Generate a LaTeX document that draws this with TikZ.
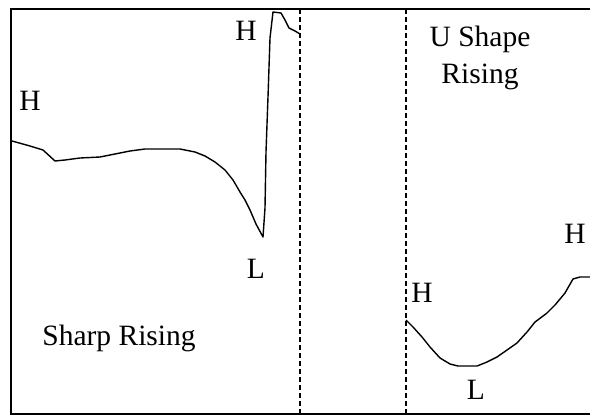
\documentclass[tikz,border=0pt]{standalone}
\usepackage{fontspec}
\setmainfont{Liberation Serif}
\usepackage{tikz}
\usetikzlibrary{positioning}

\begin{document}
\begin{tikzpicture}[
  x=1pt,y=-1pt,
  lbl/.style={font=\fontsize{29.5}{37}\selectfont,inner sep=0pt,align=center},
  trace/.style={line width=1.4pt,line join=round},
  divider/.style={line width=1.5pt,dash pattern=on 5pt off 3pt},
]
\useasboundingbox (0,0) rectangle (590,418);
% frame (open on the right)
\draw[line width=2pt] (592,9) -- (11,9) -- (11,414) -- (592,414);
% dividers
\coordinate (d1t) at (300,9);   \coordinate (d1b) at (300,414);
\coordinate (d2t) at (406,9);   \coordinate (d2b) at (406,414);
\draw[divider] (d1t) -- (d1b);
\draw[divider] (d2t) -- (d2b);
% sharp rising trace
\draw[trace] (12,141) -- (30,146) -- (43,150) -- (55,161) -- (65,160) -- (80,158)
  -- (100,157) -- (115,154) -- (130,151) -- (145,149) -- (180,149) -- (195,152)
  -- (205,156) -- (215,162) -- (225,170) -- (233,180) -- (240,192) -- (245,200)
  -- (250,210) -- (256,224) -- (263,237) -- (265,208) -- (266,152) -- (268,97)
  -- (270,38) -- (273,12) -- (281,13) -- (285,20) -- (289,28) -- (295,31) -- (300,34);
% U shape trace
\draw[trace] (406,320) -- (413,327) -- (422,337) -- (430,347) -- (440,358)
  -- (450,364) -- (458,366) -- (477,366) -- (487,362) -- (497,357) -- (507,350)
  -- (517,343) -- (527,332) -- (535,322) -- (547,313) -- (555,305) -- (565,293)
  -- (573,279) -- (580,277) -- (592,277);
% labels
\node[lbl] (hLeft)   at (30,101)  {H};
\node[lbl] (hTop)    at (246,31)  {H};
\node[lbl] (lLeft)   at (256,269) {L};
\node[lbl] (sharp)   at (119,338) {Sharp Rising};
\node[lbl] (ushape)  at (480,58)  {U Shape\\Rising};
\node[lbl] (hMid)    at (422,293) {H};
\node[lbl] (hRight)  at (575,234) {H};
\node[lbl] (lBottom) at (476,390) {L};
\end{tikzpicture}
\end{document}
